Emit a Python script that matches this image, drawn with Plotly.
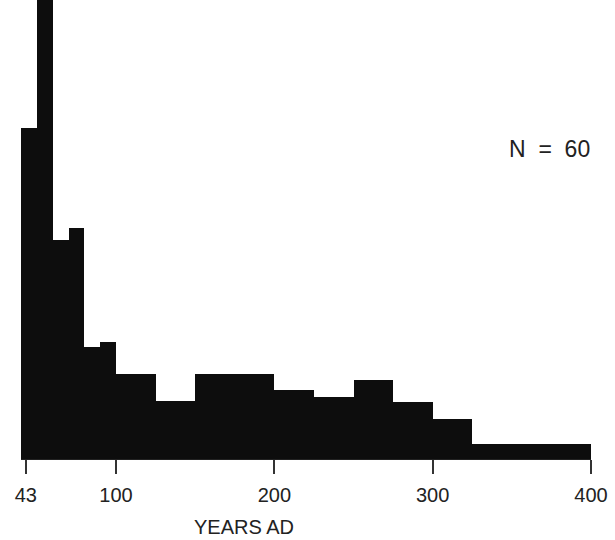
import plotly.graph_objects as go

# Bin edges (years AD) and bar heights (relative frequency, arbitrary units)
bin_edges = [40, 50, 60, 70, 80, 90, 100, 125, 150, 200, 225, 250, 275, 300, 325, 400]
heights = [72.2, 130.0, 47.8, 50.4, 24.3, 25.4, 18.5, 12.6, 18.5, 15.1, 13.6, 17.3, 12.4, 8.7, 3.3]
tick_vals = [43, 100, 200, 300, 400]
tick_text = ["43", "100", "200", "300", "400"]
n_label = "N\u00a0\u00a0=\u00a0\u00a060"
x_title = "YEARS AD"

centers = [(a + b) / 2 for a, b in zip(bin_edges[:-1], bin_edges[1:])]
widths = [b - a for a, b in zip(bin_edges[:-1], bin_edges[1:])]

fig = go.Figure(go.Bar(
    x=centers, y=heights, width=widths,
    marker=dict(color="#0d0d0d", line=dict(width=0)),
    hoverinfo="skip",
))

W, H = 615, 540
ml, mr, mt, mb = 21, 24, 0, 81
pw = W - ml - mr
ph = H - mt - mb

def px_x(p):
    return (p - ml) / pw

def px_y(p):
    return (H - mb - p) / ph

fig.update_layout(
    width=W, height=H,
    margin=dict(l=ml, r=mr, t=mt, b=mb, autoexpand=False),
    paper_bgcolor="white", plot_bgcolor="white",
    showlegend=False, bargap=0,
    font=dict(family="Liberation Sans, Arial, sans-serif", size=20, color="#222"),
    xaxis=dict(
        range=[bin_edges[0], bin_edges[-1]],
        tickvals=tick_vals, ticktext=tick_text,
        ticks="outside", ticklen=14, tickwidth=1.5, tickcolor="#333",
        ticklabelstandoff=4,
        showline=True, linecolor="#222", linewidth=1,
        showgrid=False, zeroline=False,
        tickfont=dict(size=20, color="#222"),
    ),
    yaxis=dict(range=[0, 100], visible=False, showgrid=False, zeroline=False),
    annotations=[
        dict(text=x_title, xref="paper", yref="paper", x=px_x(244), y=px_y(527),
             xanchor="center", yanchor="middle", showarrow=False,
             font=dict(size=20, color="#222")),
        dict(text=n_label, xref="paper", yref="paper", x=px_x(592), y=px_y(149),
             xanchor="right", yanchor="middle", showarrow=False,
             font=dict(size=23, color="#222")),
    ],
)

fig.write_html("out.html", config={"displayModeBar": False},
               post_script="document.body.style.margin='0';document.body.style.padding='0';")
